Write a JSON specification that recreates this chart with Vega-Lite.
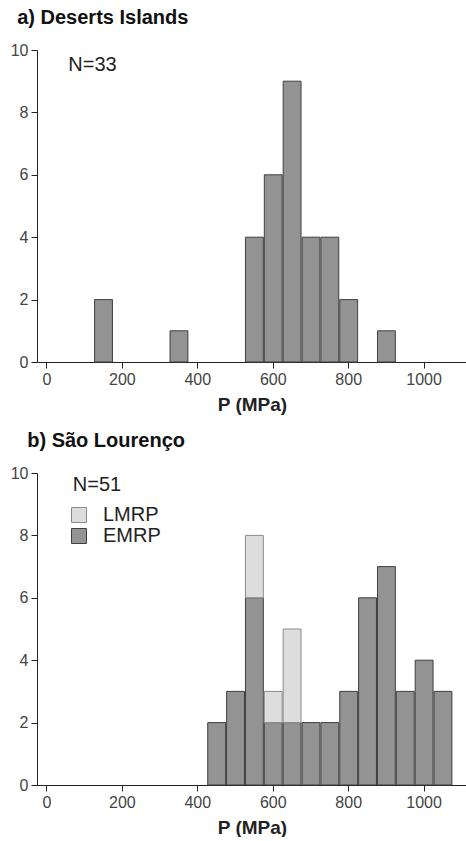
{
  "$schema": "https://vega.github.io/schema/vega-lite/v6.json",
  "padding": {"left": 10, "top": 8, "right": 0, "bottom": 0},
  "background": "white",
  "spacing": 17,
  "resolve": {"legend": {"fill": "independent", "stroke": "independent"}, "scale": {"fill": "independent", "stroke": "independent"}},
  "config": {
    "view": {"stroke": null},
    "font": "Liberation Sans",
    "axis": {
      "domainColor": "#222", "tickColor": "#222", "labelColor": "#444",
      "labelFont": "Liberation Sans", "labelFontSize": 16, "tickSize": 6,
      "grid": false, "labelPadding": 3,
      "titleFont": "Liberation Sans", "titleFontWeight": "bold", "titleFontSize": 19, "titleColor": "#222"
    },
    "title": {"anchor": "start", "frame": "bounds", "font": "Liberation Sans", "fontSize": 20, "fontWeight": "bold", "color": "#111", "offset": 14}
  },
  "datasets": {
    "deserts": [
      {"p0": 125, "p1": 175, "count": 2},
      {"p0": 325, "p1": 375, "count": 1},
      {"p0": 525, "p1": 575, "count": 4},
      {"p0": 575, "p1": 625, "count": 6},
      {"p0": 625, "p1": 675, "count": 9},
      {"p0": 675, "p1": 725, "count": 4},
      {"p0": 725, "p1": 775, "count": 4},
      {"p0": 775, "p1": 825, "count": 2},
      {"p0": 875, "p1": 925, "count": 1}
    ],
    "saolourenco": [
      {"p0": 425, "p1": 475, "type": "EMRP", "count": 2},
      {"p0": 475, "p1": 525, "type": "EMRP", "count": 3},
      {"p0": 525, "p1": 575, "type": "EMRP", "count": 6},
      {"p0": 525, "p1": 575, "type": "LMRP", "count": 2},
      {"p0": 575, "p1": 625, "type": "EMRP", "count": 2},
      {"p0": 575, "p1": 625, "type": "LMRP", "count": 1},
      {"p0": 625, "p1": 675, "type": "EMRP", "count": 2},
      {"p0": 625, "p1": 675, "type": "LMRP", "count": 3},
      {"p0": 675, "p1": 725, "type": "EMRP", "count": 2},
      {"p0": 725, "p1": 775, "type": "EMRP", "count": 2},
      {"p0": 775, "p1": 825, "type": "EMRP", "count": 3},
      {"p0": 825, "p1": 875, "type": "EMRP", "count": 6},
      {"p0": 875, "p1": 925, "type": "EMRP", "count": 7},
      {"p0": 925, "p1": 975, "type": "EMRP", "count": 3},
      {"p0": 975, "p1": 1025, "type": "EMRP", "count": 4},
      {"p0": 1025, "p1": 1075, "type": "EMRP", "count": 3}
    ]
  },
  "vconcat": [
    {
      "title": {"text": "a) Deserts Islands", "dx": 7},
      "width": 430,
      "height": 312,
      "layer": [
        {
          "data": {"name": "deserts"},
          "mark": {"type": "bar", "fill": "#939393", "stroke": "#3f3f3f", "strokeWidth": 1, "opacity": 1},
          "encoding": {
            "x": {
              "field": "p0", "type": "quantitative", "bin": "binned",
              "scale": {"domain": [-25, 1115], "nice": false, "zero": false},
              "axis": {
                "values": [0, 50, 100, 150, 200, 250, 300, 350, 400, 450, 500, 550, 600, 650, 700, 750, 800, 850, 900, 950, 1000, 1050, 1100],
                "format": "d",
                "labelExpr": "datum.value % 200 === 0 ? datum.label : ''",
                "labelOverlap": false, "labelFlush": false,
                "title": "P (MPa)", "titlePadding": 8
              }
            },
            "x2": {"field": "p1"},
            "y": {
              "field": "count", "type": "quantitative",
              "scale": {"domain": [0, 10], "nice": false},
              "axis": {"values": [0, 2, 4, 6, 8, 10], "title": null}
            }
          }
        },
        {
          "data": {"values": [{"note": "N=33"}]},
          "mark": {"type": "text", "align": "left", "baseline": "middle", "fontSize": 20, "color": "#222", "font": "Liberation Sans"},
          "encoding": {
            "x": {"datum": 58},
            "y": {"datum": 9.53},
            "text": {"field": "note"}
          }
        }
      ]
    },
    {
      "title": {"text": "b) São Lourenço", "dx": 17},
      "width": 430,
      "height": 312,
      "layer": [
        {
          "data": {"name": "saolourenco"},
          "mark": {"type": "bar", "strokeWidth": 1, "opacity": 1},
          "encoding": {
            "x": {
              "field": "p0", "type": "quantitative", "bin": "binned",
              "scale": {"domain": [-25, 1115], "nice": false, "zero": false},
              "axis": {
                "values": [0, 50, 100, 150, 200, 250, 300, 350, 400, 450, 500, 550, 600, 650, 700, 750, 800, 850, 900, 950, 1000, 1050, 1100],
                "format": "d",
                "labelExpr": "datum.value % 200 === 0 ? datum.label : ''",
                "labelOverlap": false, "labelFlush": false,
                "title": "P (MPa)", "titlePadding": 8
              }
            },
            "x2": {"field": "p1"},
            "y": {
              "field": "count", "type": "quantitative", "stack": "zero",
              "scale": {"domain": [0, 10], "nice": false},
              "axis": {"values": [0, 2, 4, 6, 8, 10], "title": null}
            },
            "fill": {
              "field": "type", "type": "nominal",
              "scale": {"domain": ["LMRP", "EMRP"], "range": ["#dddddd", "#939393"]},
              "legend": {
                "orient": "none", "legendX": 32, "legendY": 32, "title": null,
                "symbolType": "square", "symbolSize": 225, "symbolStrokeWidth": 1,
                "labelFontSize": 20, "labelFont": "Liberation Sans", "labelColor": "#222",
                "labelOffset": 14, "rowPadding": 1, "padding": 0
              }
            },
            "stroke": {
              "field": "type", "type": "nominal",
              "scale": {"domain": ["LMRP", "EMRP"], "range": ["#8a8a8a", "#3f3f3f"]},
              "legend": {
                "orient": "none", "legendX": 32, "legendY": 32, "title": null,
                "symbolType": "square", "symbolSize": 225, "symbolStrokeWidth": 1,
                "labelFontSize": 20, "labelFont": "Liberation Sans", "labelColor": "#222",
                "labelOffset": 14, "rowPadding": 1, "padding": 0
              }
            },
            "order": {"field": "type", "sort": "ascending"}
          }
        },
        {
          "data": {"values": [{"note": "N=51"}]},
          "mark": {"type": "text", "align": "left", "baseline": "middle", "fontSize": 20, "color": "#222", "font": "Liberation Sans"},
          "encoding": {
            "x": {"datum": 70},
            "y": {"datum": 9.6},
            "text": {"field": "note"}
          }
        }
      ]
    }
  ]
}
